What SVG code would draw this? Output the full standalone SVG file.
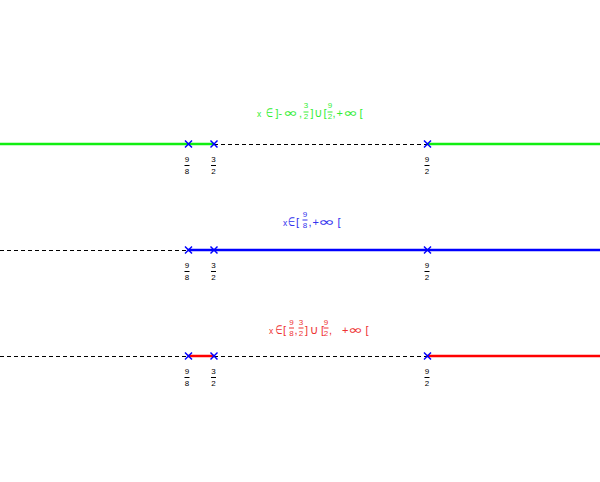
<svg xmlns="http://www.w3.org/2000/svg" width="600" height="482" viewBox="0 0 600 482">
<defs>
<style>
text{font-family:"Liberation Sans",Arial,sans-serif}
.x{font-size:8.5px}
.br{font-size:11px}
.sy{font-family:"DejaVu Sans",sans-serif;font-size:12px}
.n{font-size:8px;text-anchor:middle}
.f{font-size:8px;fill:#000;text-anchor:middle}
.dash{stroke:#000;stroke-width:1;stroke-dasharray:4,3}
.g{stroke:#11ee11;stroke-width:2.5;fill:none}
.b{stroke:#0000ff;stroke-width:2.5;fill:none}
.r{stroke:#ff0000;stroke-width:2.5;fill:none}
.cx{stroke:#0000ff;stroke-width:1.5}
.bar{stroke:#000;stroke-width:1}
</style>
<g id="cross"><line class="cx" x1="-3.5" y1="-3.5" x2="3.5" y2="3.5"/><line class="cx" x1="-3.5" y1="3.5" x2="3.5" y2="-3.5"/></g>
<g id="f98"><text class="f" x="0" y="0">9</text><line class="bar" x1="-2.5" y1="3.5" x2="2.5" y2="3.5"/><text class="f" x="0" y="12">8</text></g>
<g id="f32"><text class="f" x="0" y="0">3</text><line class="bar" x1="-2.5" y1="3.5" x2="2.5" y2="3.5"/><text class="f" x="0" y="12">2</text></g>
<g id="f92"><text class="f" x="0" y="0">9</text><line class="bar" x1="-2.5" y1="3.5" x2="2.5" y2="3.5"/><text class="f" x="0" y="12">2</text></g>
</defs>
<rect width="600" height="482" fill="#fff"/>
<g id="connectors">
<line class="g" x1="0" y1="144" x2="214" y2="144"/>
<line class="dash" x1="214" y1="144.5" x2="427" y2="144.5"/>
<line class="g" x1="427" y1="144" x2="600" y2="144"/>
<line class="dash" x1="0" y1="250.5" x2="188" y2="250.5"/>
<line class="b" x1="188" y1="250" x2="600" y2="250"/>
<line class="dash" x1="0" y1="356.5" x2="188" y2="356.5"/>
<line class="r" x1="188" y1="356" x2="214" y2="356"/>
<line class="dash" x1="214" y1="356.5" x2="427" y2="356.5"/>
<line class="r" x1="427" y1="356" x2="600" y2="356"/>
</g>
<g id="axis1">
<use href="#cross" x="188.5" y="144"/><use href="#cross" x="214" y="144"/><use href="#cross" x="427.5" y="144"/>
<use href="#f98" x="187" y="162"/><use href="#f32" x="213.5" y="162"/><use href="#f92" x="427" y="162"/>
</g>
<g id="axis2">
<use href="#cross" x="188.5" y="250"/><use href="#cross" x="214" y="250"/><use href="#cross" x="427.5" y="250"/>
<use href="#f98" x="187" y="268"/><use href="#f32" x="213.5" y="268"/><use href="#f92" x="427" y="268"/>
</g>
<g id="axis3">
<use href="#cross" x="188.5" y="356"/><use href="#cross" x="214" y="356"/><use href="#cross" x="427.5" y="356"/>
<use href="#f98" x="187" y="374"/><use href="#f32" x="213.5" y="374"/><use href="#f92" x="427" y="374"/>
</g>
<g id="label1" fill="#33ee33" stroke="none">
<text class="x" x="257" y="117">x</text>
<text class="sy" x="266" y="117" textLength="7" lengthAdjust="spacingAndGlyphs">∈</text>
<text class="br" x="275.5" y="117">]-</text>
<text class="sy" x="283" y="117" textLength="15" lengthAdjust="spacingAndGlyphs">∞</text>
<text class="br" x="299" y="117">,</text>
<text class="n" x="306" y="108">3</text><line x1="303.5" y1="112" x2="308.5" y2="112" stroke="#33ee33"/><text class="n" x="306" y="119">2</text>
<text class="br" x="310.5" y="117">]</text>
<text class="sy" x="314" y="117" textLength="8.5" lengthAdjust="spacingAndGlyphs">∪</text>
<text class="br" x="323.5" y="117">[</text>
<text class="n" x="330" y="108">9</text><line x1="327.5" y1="112" x2="332.5" y2="112" stroke="#33ee33"/><text class="n" x="330" y="119">2</text>
<text class="br" x="332.5" y="117">,</text>
<text class="br" x="336.5" y="117">+</text>
<text class="sy" x="343" y="117" textLength="15" lengthAdjust="spacingAndGlyphs">∞</text>
<text class="br" x="359.5" y="117">[</text>
</g>
<g id="label2" fill="#3333ee" stroke="none">
<text class="x" x="283" y="225.5">x</text>
<text class="sy" x="288" y="225.5" textLength="7" lengthAdjust="spacingAndGlyphs">∈</text>
<text class="br" x="296" y="225.5">[</text>
<text class="n" x="305" y="216.5">9</text><line x1="302.5" y1="220" x2="307.5" y2="220" stroke="#3333ee"/><text class="n" x="305" y="227.5">8</text>
<text class="br" x="308.5" y="225.5">,</text>
<text class="br" x="312.5" y="225.5">+</text>
<text class="sy" x="318" y="225.5" textLength="17" lengthAdjust="spacingAndGlyphs">∞</text>
<text class="br" x="337.5" y="225.5">[</text>
</g>
<g id="label3" fill="#ee3333" stroke="none">
<text class="x" x="269" y="333.5">x</text>
<text class="sy" x="275.5" y="333.5" textLength="7" lengthAdjust="spacingAndGlyphs">∈</text>
<text class="br" x="283" y="333.5">[</text>
<text class="n" x="291.5" y="324.5">9</text><line x1="289" y1="328" x2="294" y2="328" stroke="#ee3333"/><text class="n" x="291.5" y="335.5">8</text>
<text class="br" x="294.5" y="333.5">,</text>
<text class="n" x="301" y="324.5">3</text><line x1="298.5" y1="328" x2="303.5" y2="328" stroke="#ee3333"/><text class="n" x="301" y="335.5">2</text>
<text class="br" x="305" y="333.5">]</text>
<text class="sy" x="309.5" y="333.5" textLength="9" lengthAdjust="spacingAndGlyphs">∪</text>
<text class="br" x="321" y="333.5">[</text>
<text class="n" x="326" y="324.5">9</text><line x1="323.5" y1="328" x2="328.5" y2="328" stroke="#ee3333"/><text class="n" x="326" y="335.5">2</text>
<text class="br" x="329" y="333.5">,</text>
<text class="br" x="342" y="333.5">+</text>
<text class="sy" x="348" y="333.5" textLength="15" lengthAdjust="spacingAndGlyphs">∞</text>
<text class="br" x="365.5" y="333.5">[</text>
</g>
</svg>
